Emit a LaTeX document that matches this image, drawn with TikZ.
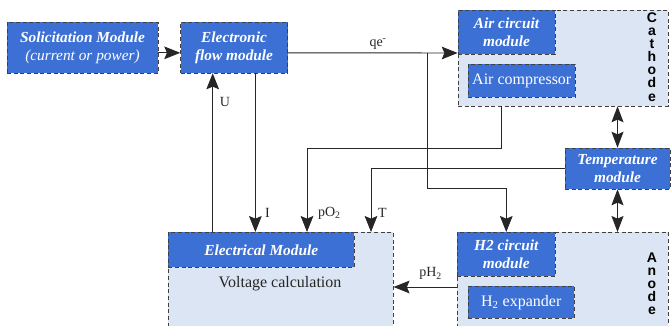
\documentclass[tikz,border=0pt]{standalone}
\usepackage{fontspec}
\setmainfont{Liberation Serif}
\newfontfamily\letterfont{Liberation Sans}
\usetikzlibrary{arrows.meta,positioning}
\definecolor{modblue}{RGB}{60,112,212}
\definecolor{cellblue}{RGB}{220,229,244}

\begin{document}
\begin{tikzpicture}[x=0.75pt, y=-0.75pt,
    module/.style={draw=black!75, densely dashed, fill=modblue, text=white, align=center,
      inner sep=0pt, font=\fontsize{11.5}{13.5}\selectfont\bfseries\itshape},
    part/.style={module, font=\fontsize{12}{14}\selectfont},
    cell/.style={draw=black!75, densely dashed, fill=cellblue, inner sep=0pt},
    side/.style={align=center, inner sep=0pt, font=\fontsize{10.5}{9.8}\selectfont\letterfont\bfseries},
    lbl/.style={font=\fontsize{10.5}{12}\selectfont, inner sep=2pt, text=black!85},
    arrow/.style={-{Stealth[length=12pt, width=9.5pt, inset=2pt]}, line width=0.7pt, black!85},
    dblarrow/.style={{Stealth[length=12pt, width=9pt, inset=2pt]}-{Stealth[length=12pt, width=9pt, inset=2pt]},
      line width=0.7pt, black!85}
  ]
    \useasboundingbox (0,0) rectangle (671,325);
    \clip (0,0) rectangle (671,325);

    % top row
    \node[module, minimum width=113.25pt, minimum height=38.25pt] (sol) at (82.5,47.5)
      {Solicitation Module\\{\mdseries(current or power)}};
    \node[module, right=16.5pt of sol, minimum width=80.25pt, minimum height=38.25pt] (elec)
      {Electronic\\flow module};

    % cathode
    \node[cell, minimum width=157.5pt, minimum height=72pt] (cathode) at (563,58) {};
    \node[module, anchor=north west, minimum width=72.75pt, minimum height=33pt] (air)
      at (cathode.north west) {Air circuit\\module};
    \node[part, anchor=north west, minimum width=80.25pt, minimum height=24.75pt] (comp)
      at (468,64) {Air compressor};
    \node[side] (cathlbl) at (652,57) {C\\a\\t\\h\\o\\d\\e};

    \node[module, minimum width=78.75pt, minimum height=30.75pt] (temp) at (617.5,168.5)
      {Temperature\\module};

    % anode
    \node[cell, anchor=north west, minimum width=158.25pt, minimum height=84.75pt] (anode)
      at (457,232) {};
    \node[module, anchor=north west, minimum width=73.5pt, minimum height=33pt] (h2)
      at (anode.north west) {H2 circuit\\module};
    \node[part, anchor=north west, minimum width=79.5pt, minimum height=24pt] (expander)
      at (468,286) {H\textsubscript{2} expander};
    \node[side] (anodelbl) at (652,284) {A\\n\\o\\d\\e};

    % electrical module
    \node[cell, anchor=north west, minimum width=168.75pt, minimum height=84.75pt] (elecmod)
      at (168,232) {};
    \node[module, anchor=north west, minimum width=139.5pt, minimum height=26.25pt] (elechead)
      at (elecmod.north west) {Electrical Module};
    \node[lbl, font=\fontsize{12}{14}\selectfont] (volt) at (280,284) {Voltage calculation};

    % connectors
    \coordinate (qsplit) at (427,53);
    \coordinate (qturn) at (427,188);
    \coordinate (o2turn) at (307,148);
    \coordinate (tin) at (371,232);
    \coordinate (h2out) at (457,287);
    \coordinate (iout) at ([xshift=16pt]elec.south);
    \coordinate (uin) at ([xshift=-16pt]elec.south);

    \draw[arrow] ([yshift=-4pt]sol.east) -- ([yshift=-4pt]elec.west);
    \draw[arrow] ([yshift=-4pt]elec.east) -- (qsplit -| cathode.west)
      node[lbl, midway, above, xshift=4pt] {qe\textsuperscript{-}};
    \draw[arrow] (qsplit) -- (qturn) -| (h2.north);
    \draw[arrow] ([xshift=-46.5pt]cathode.south) |- (o2turn) -- (o2turn |- elecmod.north)
      node[lbl, pos=0.78, right, xshift=6pt] {pO\textsubscript{2}};
    \draw[arrow] (temp.west) -| (tin) node[lbl, pos=0.85, right, xshift=3pt] {T};
    \draw[arrow] (iout) -- (iout |- elecmod.north) node[lbl, pos=0.88, right, xshift=5pt] {I};
    \draw[arrow] (uin |- elecmod.north) -- (uin) node[lbl, pos=0.82, right, xshift=3pt] {U};
    \draw[arrow] (h2out) -- (h2out -| elecmod.east)
      node[lbl, midway, above=3pt, xshift=4pt] {pH\textsubscript{2}};
    \draw[dblarrow] (temp.north) -- (temp.north |- cathode.south);
    \draw[dblarrow] (temp.south) -- (temp.south |- anode.north);
  \end{tikzpicture}
\end{document}
